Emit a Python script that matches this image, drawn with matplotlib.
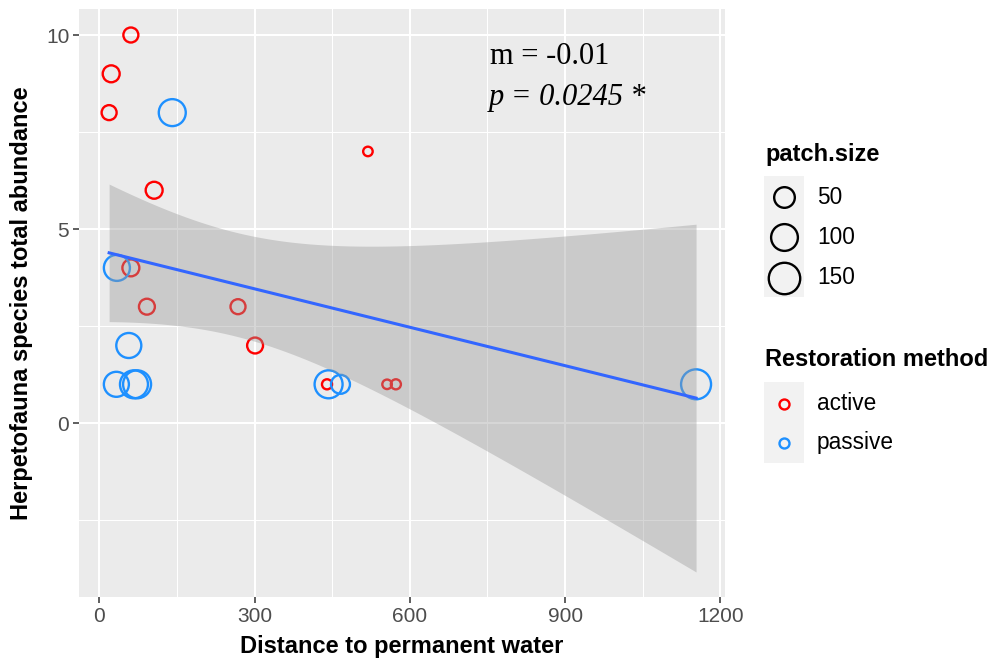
import numpy as np
import matplotlib.pyplot as plt
from matplotlib.lines import Line2D
from matplotlib.patches import Rectangle

# distance to permanent water (m), herpetofauna abundance, patch size
active_dist = [61, 23, 19, 106, 519, 61, 92, 268, 301, 440, 556, 573]
active_abund = [10, 9, 8, 6, 7, 4, 3, 3, 2, 1, 1, 1]
active_patch = [19, 28, 19, 28, 3, 28, 23, 19, 23, 4, 3, 4]

passive_dist = [141, 34, 57, 33, 67, 73, 443, 466, 1153]
passive_abund = [8, 4, 2, 1, 1, 1, 1, 1, 1]
passive_patch = [102, 93, 84, 84, 112, 112, 112, 39, 133]

size_breaks = [50, 100, 150]
method_labels = ['active', 'passive']
method_colors = ['#FF0000', '#1E90FF']

# linear fit shown on the plot
fit_intercept = 4.45
fit_slope = -0.0033
fit_resid_se = 2.93
t_crit = 2.093

slope_text = 'm = -0.01'
p_text = 'p = 0.0245'

SANS = 'Liberation Sans'
SERIF = 'Liberation Serif'
W, H = 989, 659


def size_to_pt(v):
    # area-style size scale, limits 0..200
    d_px = 5.9 * (1 + 5 * np.sqrt(np.asarray(v, dtype=float) / 200.0))
    return d_px * 0.72


def fx(px):
    return px / W


def fy(py):
    return 1 - py / H


fig = plt.figure(figsize=(9.89, 6.59), dpi=100)
ax = fig.add_axes([fx(79), fy(597), (725 - 79) / W, (597 - 9) / H])
ax.set_facecolor('#EBEBEB')
for s in ax.spines.values():
    s.set_visible(False)

ax.set_xlim(-39.2, 1208.9)
ax.set_ylim(-4.48, 10.67)
ax.set_xticks([0, 300, 600, 900, 1200])
ax.set_xticks([150, 450, 750, 1050], minor=True)
ax.set_yticks([0, 5, 10])
ax.set_yticks([-2.5, 2.5, 7.5], minor=True)
ax.grid(which='major', color='white', linewidth=1.5)
ax.grid(which='minor', color='white', linewidth=0.75)
ax.set_axisbelow(True)
ax.tick_params(which='major', length=4, width=1.1, color='#333333',
               labelsize=15, labelcolor='#4D4D4D', pad=3)
ax.tick_params(which='minor', length=0)
for lab in ax.get_xticklabels() + ax.get_yticklabels():
    lab.set_family(SANS)

# points
mew = 1.7
ax.scatter(active_dist, active_abund, s=size_to_pt(active_patch) ** 2,
           facecolors='none', edgecolors=method_colors[0], linewidths=mew, zorder=2)
ax.scatter(passive_dist, passive_abund, s=size_to_pt(passive_patch) ** 2,
           facecolors='none', edgecolors=method_colors[1], linewidths=mew, zorder=2)

# regression line with 95% confidence band
x_all = np.array(active_dist + passive_dist, dtype=float)
n = len(x_all)
xbar = x_all.mean()
sxx = ((x_all - xbar) ** 2).sum()
xs = np.linspace(x_all.min(), x_all.max(), 200)
fit = fit_intercept + fit_slope * xs
half = t_crit * fit_resid_se * np.sqrt(1 / n + (xs - xbar) ** 2 / sxx)
ax.fill_between(xs, fit - half, fit + half, color='#999999', alpha=0.4,
                linewidth=0, zorder=3)
ax.plot(xs, fit, color='#3366FF', linewidth=2.2, zorder=4)

# fit annotation
ax.text(755, 9.45, slope_text, family=SERIF, fontsize=22, va='center', ha='left', zorder=5)
t2 = ax.text(752, 8.38, p_text, family=SERIF, style='italic', fontsize=22,
             va='center', ha='left', zorder=5)
ax.annotate(' *', xy=(1, 0), xycoords=t2, family=SERIF, fontsize=22,
            va='bottom', ha='left', zorder=5)

ax.set_xlabel('Distance to permanent water', family=SANS, fontsize=17,
              fontweight='bold')
ax.set_ylabel('Herpetofauna species total abundance', family=SANS,
              fontsize=17, fontweight='bold')
ax.xaxis.set_label_coords(0.5, (597 - 646) / 588)
ax.xaxis.label.set_va('center')
ax.yaxis.set_label_coords((22 - 79) / 646, 0.5)
ax.yaxis.label.set_va('center')

# legend: patch.size
fig.text(fx(765), fy(155), 'patch.size', family=SANS, fontsize=17,
         fontweight='bold', va='center', ha='left')
fig.patches.append(Rectangle((fx(764), fy(297)), 40 / W, (297 - 176) / H,
                             transform=fig.transFigure, facecolor='#F2F2F2',
                             edgecolor='none'))
for val, py in zip(size_breaks, [197, 237.5, 278]):
    fig.add_artist(Line2D([fx(784)], [fy(py)], transform=fig.transFigure,
                          marker='o', markersize=size_to_pt(val), mfc='none',
                          mec='black', mew=mew, linestyle='none'))
    fig.text(fx(817), fy(py), str(val), family=SANS, fontsize=16.3,
             va='center', ha='left')

# legend: restoration method
fig.text(fx(765), fy(360), 'Restoration method', family=SANS, fontsize=17,
         fontweight='bold', va='center', ha='left')
fig.patches.append(Rectangle((fx(764), fy(463)), 40 / W, (463 - 382) / H,
                             transform=fig.transFigure, facecolor='#F2F2F2',
                             edgecolor='none'))
for lab, col, py in zip(method_labels, method_colors, [404, 443]):
    fig.add_artist(Line2D([fx(784)], [fy(py)], transform=fig.transFigure,
                          marker='o', markersize=7.2, mfc='none', mec=col,
                          mew=mew, linestyle='none'))
    fig.text(fx(817), fy(py), lab, family=SANS, fontsize=16.3,
             va='center', ha='left')

fig.savefig('out.png', dpi=100)
